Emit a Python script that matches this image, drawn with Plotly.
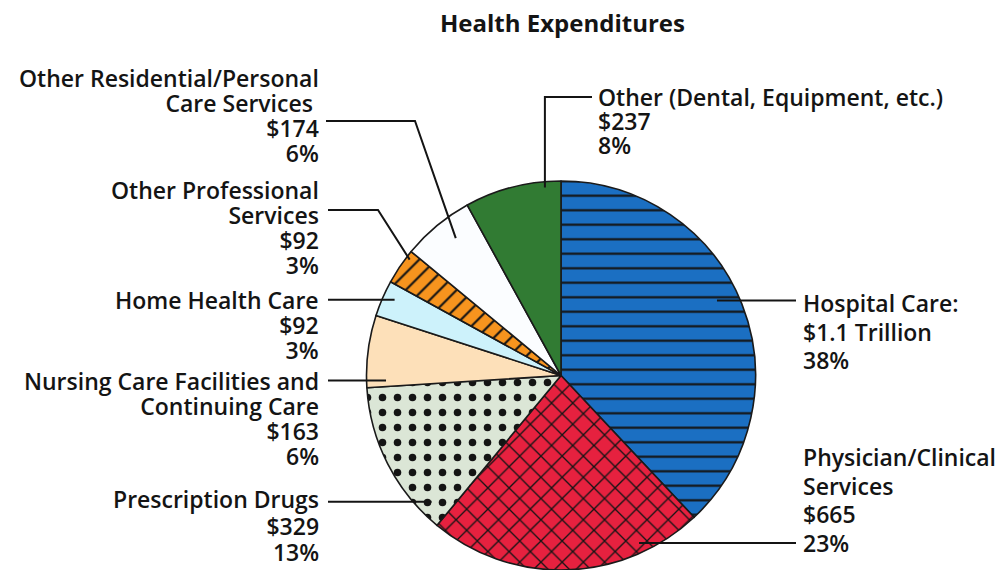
import math
import plotly.graph_objects as go

# ---- data -------------------------------------------------------------
categories = [
    "Hospital Care",
    "Physician/Clinical Services",
    "Prescription Drugs",
    "Nursing Care Facilities and Continuing Care",
    "Home Health Care",
    "Other Professional Services",
    "Other Residential/Personal Care Services",
    "Other (Dental, Equipment, etc.)",
]
percent = [38, 23, 13, 6, 3, 3, 6, 8]
dollars = ["$1.1 Trillion", "$665", "$329", "$163", "$92", "$92", "$174", "$237"]

# ---- styling ----------------------------------------------------------
W, H = 1008, 570
FONT = "Open Sans"
INK = "#141414"
GLYPH = 23  # label glyph size in px
fills = ["#1b6fc2", "#e6213f", "#dbe6d6", "#fde0b9", "#cdf2fb",
         "#f7941e", "#fbfdff", "#317b33"]
shapes_ = ["-", "x", ".", "", "", "/", "", ""]
pat_size = [14.5, 15, 15, 8, 8, 12, 8, 8]
pat_solid = [0.15, 0.17, 0.2, 0.2, 0.2, 0.18, 0.2, 0.2]

dom_x = [366 / W, 756 / W]
dom_y = [0.0, 1 - 181 / H]

fig = go.Figure(go.Pie(
    labels=categories,
    values=percent,
    sort=False,
    direction="clockwise",
    rotation=0,
    textinfo="none",
    hoverinfo="label+value",
    showlegend=False,
    domain=dict(x=dom_x, y=dom_y),
    marker=dict(
        colors=fills,
        line=dict(color="#1a1a1a", width=1.6),
        pattern=dict(
            shape=shapes_,
            fgcolor=[INK] * len(fills),
            bgcolor=fills,
            size=pat_size,
            solidity=pat_solid,
            fillmode="replace",
        ),
    ),
))

# ---- pie geometry in pixels (derived from the domain) -----------------
cx = (dom_x[0] + dom_x[1]) / 2 * W
cy = (1 - (dom_y[0] + dom_y[1]) / 2) * H
R = min((dom_x[1] - dom_x[0]) * W, (dom_y[1] - dom_y[0]) * H) / 2

total = sum(percent)
starts, acc = [], 0
for v in percent:
    starts.append(acc / total * 360)
    acc += v


def anchor(i, t, rf):
    """Point inside slice i: t = fraction across its angle, rf = radius fraction."""
    span = percent[i] / total * 360
    th = math.radians(starts[i] + t * span)
    return cx + rf * R * math.sin(th), cy - rf * R * math.cos(th)


def px(x):
    return x / W


def py(y):
    return 1 - y / H


def leader(points):
    d = "M " + " L ".join(f"{px(x)},{py(y)}" for x, y in points)
    fig.add_shape(type="path", path=d, xref="paper", yref="paper",
                  line=dict(color=INK, width=2))


def label(lines, x, y0, step, side):
    """One text block; line pitch = 1.3 x base size, glyphs drawn at GLYPH px."""
    body = "<br>".join(f'<span style="font-size:{GLYPH}px">{s}</span>' for s in lines)
    ymid = y0 + (len(lines) - 1) * step / 2
    fig.add_annotation(
        text=body, x=px(x), y=py(ymid), xref="paper", yref="paper",
        xanchor="right" if side == "left" else "left", yanchor="middle",
        align="right" if side == "left" else "left",
        showarrow=False, borderpad=0,
        font=dict(family=FONT, size=step / 1.3, color=INK, weight=600),
    )


# Hospital Care
a = anchor(0, 0.47, 0.89)
leader([a, (796, a[1])])
label(["Hospital Care:", dollars[0], f"{percent[0]}%"], 802, 303, 28.5, "right")

# Physician/Clinical Services
a = anchor(1, 0.22, 0.95)
leader([a, (796, a[1])])
label(["Physician/Clinical", "Services", dollars[1], f"{percent[1]}%"],
      802, 457, 28.5, "right")

# Prescription Drugs
a = anchor(2, 0.13, 0.93)
leader([(328, a[1]), a])
label(["Prescription Drugs", dollars[2], f"{percent[2]}%"], 320, 499, 26.5, "left")

# Nursing Care Facilities
a = anchor(3, 0.09, 0.9)
leader([(328, a[1]), a])
label(["Nursing Care Facilities and", "Continuing Care", dollars[3], f"{percent[3]}%"],
      320, 381, 25, "left")

# Home Health Care
a = anchor(4, 0.6, 0.94)
leader([(328, a[1]), a])
label(["Home Health Care", dollars[4], f"{percent[4]}%"], 320, 300, 25, "left")

# Other Professional Services
a = anchor(5, 0.8, 0.98)
leader([(328, 210), (378, 210), a])
label(["Other Professional", "Services", dollars[5], f"{percent[5]}%"],
      320, 190, 25, "left")

# Other Residential/Personal Care Services
a = anchor(6, 0.6, 0.89)
leader([(326, 121), (415, 121), a])
label(["Other Residential/Personal", "Care Services ", dollars[6], f"{percent[6]}%"],
      320, 78, 25, "left")

# Other (Dental, Equipment, etc.)
a = anchor(7, 0.83, 0.97)
leader([(592, 97), (a[0], 97), a])
label(["Other (Dental, Equipment, etc.)", dollars[7], f"{percent[7]}%"],
      597, 97, 24, "right")

fig.add_annotation(
    text="<b>Health Expenditures</b>", x=px(562), y=py(22), xref="paper", yref="paper",
    xanchor="center", yanchor="middle", showarrow=False,
    font=dict(family=FONT, size=24, color=INK),
)

fig.update_layout(
    width=W, height=H,
    margin=dict(l=0, r=0, t=0, b=0),
    paper_bgcolor="white", plot_bgcolor="white",
)

fig.write_html("out.html")
